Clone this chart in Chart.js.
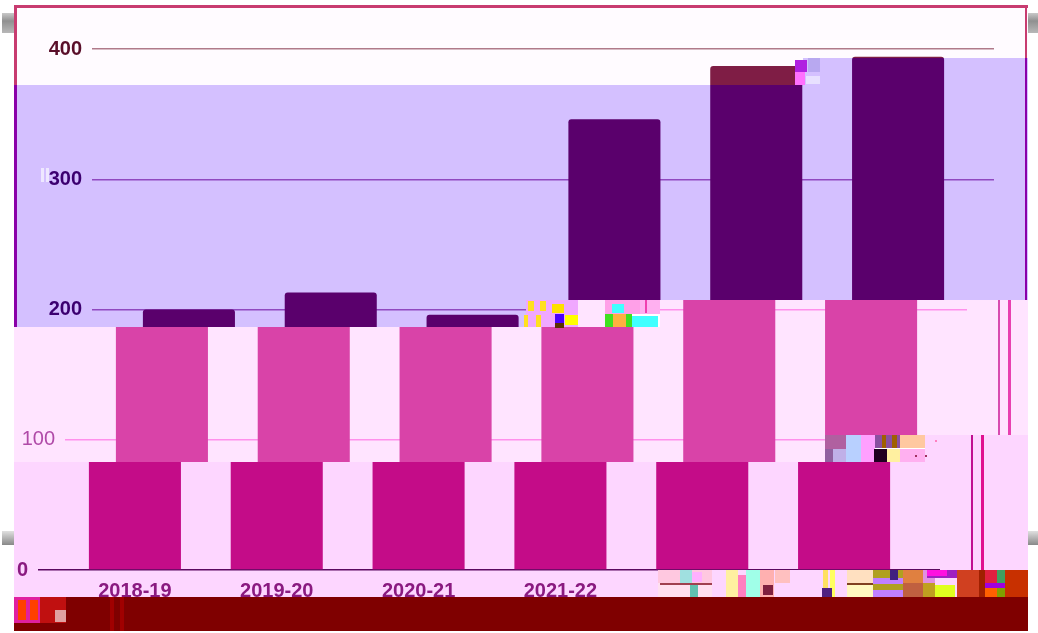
<!DOCTYPE html>
<html lang="en">

<head>
    <meta charset="UTF-8">
    <script src="https://cdn.jsdelivr.net/npm/chart.js"></script>
    <title>Bars by year</title>
    <style>
        html, body { margin: 0; padding: 0; background: #fff; overflow: hidden; }
        #stage { position: relative; width: 1038px; height: 633px; overflow: hidden; filter: blur(0.6px); }
        .layer { position: absolute; left: 0; top: 0; width: 1038px; height: 633px; }
        .shift { position: absolute; top: 0; width: 1100px; height: 640px; }
        .shift canvas { position: absolute; left: 0; top: 0; }
        .line { position: absolute; }
        .bit { position: absolute; }
    </style>
</head>

<body>
    <div id="stage"></div>
    <script>

        const categories = ['2018-19', '2019-20', '2020-21', '2021-22', '2022-23', '2023-24'];
        const barValues = [200, 213, 196, 346, 387, 394];
        const yTickStep = 100;
        const yMax = 400;

        // the picture is a damaged image: each slice is the same chart, recoloured and slid left
        const slices = [
            {
                clip: '14px 5px,1028px 5px,1028px 58px,803px 58px,803px 85px,14px 85px',
                shift: 0, bg: '#fffbff', bar: '#7f1d45', text: '#5a0f2a', grid: '#b07a8a', edge: '#c83c70', edge2: '#c83c70', weight: 'bold'
            },
            {
                clip: '14px 85px,803px 85px,803px 58px,1028px 58px,1028px 300px,526px 300px,526px 327px,14px 327px',
                shift: 0, bg: '#d4c0ff', bar: '#5a006c', text: '#3c0070', grid: '#9048c0', edge: '#8a00a8', edge2: '#f060e0', weight: 'bold'
            },
            {
                clip: '14px 327px,660px 327px,660px 300px,1028px 300px,1028px 435px,826px 435px,826px 462px,14px 462px',
                shift: 27, bg: '#ffe4ff', bar: '#d943a8', text: '#b04aa8', grid: '#ff90ec', edge: '#d84ab0', edge2: '#e840b0', weight: 'normal'
            },
            {
                clip: '14px 462px,962px 462px,962px 435px,1028px 435px,1028px 597px,14px 597px',
                shift: 54, bg: '#fdd6ff', bar: '#c40c88', text: '#8a1a80', grid: '#5a0860', edge: '#c01090', edge2: '#e0108f', weight: 'bold'
            }
        ];

        // blocks of colour noise left by the damage: x, y, w, h, colour
        const noise = [
            [2, 13, 12, 20, 'linear-gradient(#c8c8c8,#909090 40%,#b8b8b8)'], [1028, 13, 10, 20, 'linear-gradient(#c8c8c8,#909090 40%,#b8b8b8)'],
            [2, 531, 12, 14, 'linear-gradient(#e0e0e0,#888888)'], [1028, 531, 10, 14, 'linear-gradient(#e0e0e0,#888888)'],
            [14, 597, 1014, 34, '#7f0000'],
            [14, 597, 26, 26, '#e020a0'], [18, 600, 8, 20, '#ff4000'], [30, 600, 8, 20, '#ff4000'], [40, 597, 26, 26, '#c01010'], [55, 610, 11, 12, '#e0a0a0'], [110, 597, 4, 34, '#a00000'], [120, 597, 4, 34, '#a00000'],
            [795, 60, 12, 12, '#b020e0'], [795, 72, 10, 13, '#ff70ff'], [808, 58, 12, 14, '#b8a8f0'], [806, 76, 14, 8, '#e8e0ff'],
            [41, 168, 3, 14, '#eee8ff'], [46, 168, 3, 14, '#eee8ff'],
            [526, 300, 52, 27, '#f0a8ff'], [528, 301, 6, 10, '#ffe020'], [540, 301, 6, 10, '#ffe020'], [552, 304, 12, 9, '#ffe000'],
            [524, 315, 4, 12, '#ffe020'], [536, 315, 5, 12, '#ffe020'], [555, 314, 9, 9, '#4b00ff'], [555, 323, 9, 5, '#5a3000'], [565, 315, 13, 10, '#ffff00'],
            [578, 300, 27, 27, '#ffe4ff'], [605, 300, 35, 14, '#ffa0e8'], [612, 304, 12, 9, '#40ffff'], [605, 314, 8, 13, '#40e020'], [613, 314, 13, 13, '#ffb040'], [626, 314, 6, 13, '#40e020'], [632, 316, 26, 11, '#40ffff'], [640, 300, 20, 14, '#ffb0f0'], [645, 300, 2, 13, '#f040b0'],
            [825, 435, 21, 14, '#b060a0'], [825, 449, 8, 13, '#9060a0'], [833, 449, 13, 13, '#c0b0e8'], [846, 435, 15, 27, '#b8d0ff'], [861, 435, 14, 27, '#ffa0ff'], [875, 435, 25, 13, '#8a50a0'], [882, 435, 4, 13, '#a06000'], [892, 435, 5, 13, '#a06000'], [874, 449, 13, 13, '#200020'], [887, 449, 13, 13, '#fff0a0'], [900, 435, 25, 13, '#ffc8a0'], [900, 449, 25, 13, '#ffb0f0'], [925, 435, 37, 27, '#fdd6ff'], [915, 455, 2, 2, '#a03060'], [925, 455, 2, 2, '#a03060'], [935, 440, 2, 2, '#ff80c0'],
            [658, 570, 370, 27, '#fdd6ff'],
            [658, 570, 54, 13, '#ffc8e0'], [658, 583, 54, 14, '#ffe0f0'], [660, 583, 52, 2, '#a04050'], [680, 570, 12, 13, '#a0e0e0'], [692, 572, 10, 10, '#ffb0ff'], [690, 585, 8, 12, '#60c0b0'],
            [726, 570, 12, 27, '#fff0a0'], [738, 575, 8, 22, '#ff80c0'], [746, 570, 14, 27, '#a0ffe8'], [760, 570, 14, 27, '#ffb0b0'], [763, 585, 10, 10, '#802040'], [775, 570, 15, 13, '#ffc0c0'],
            [823, 570, 5, 27, '#ffe060'], [830, 570, 5, 27, '#ffff60'], [822, 588, 10, 9, '#502080'], [847, 570, 26, 13, '#ffe0c0'], [847, 583, 26, 2, '#804020'], [847, 585, 26, 12, '#fff8c0'],
            [873, 570, 30, 8, '#b0a020'], [873, 578, 30, 6, '#c080ff'], [873, 584, 30, 6, '#b0a020'], [873, 590, 30, 7, '#c080ff'],
            [890, 570, 8, 10, '#402080'], [903, 570, 20, 13, '#e08040'], [903, 583, 20, 14, '#c06040'], [923, 570, 12, 13, '#e090e0'], [923, 583, 12, 14, '#c0a020'],
            [927, 570, 30, 8, '#a020c0'], [927, 570, 20, 6, '#ff10e0'], [935, 585, 20, 12, '#e0ff20'], [957, 570, 22, 27, '#d04020'], [979, 570, 6, 27, '#a02000'],
            [985, 570, 12, 13, '#e02040'], [997, 570, 8, 13, '#40a060'], [985, 583, 20, 5, '#a000e0'], [985, 588, 12, 9, '#ff6000'], [997, 588, 8, 9, '#80a000'], [1005, 570, 23, 27, '#c83000']
        ];

        const stage = document.getElementById('stage');

        function addLine(parent, css) {
            const d = document.createElement('div');
            d.className = 'line';
            d.style.cssText = css;
            parent.appendChild(d);
        }

        slices.forEach(s => {
            const layer = document.createElement('div');
            layer.className = 'layer';
            layer.style.background = s.bg;
            layer.style.clipPath = 'polygon(' + s.clip + ')';
            const shift = document.createElement('div');
            shift.className = 'shift';
            shift.style.left = (-s.shift) + 'px';
            layer.appendChild(shift);
            stage.appendChild(layer);

            const canvas = document.createElement('canvas');
            canvas.width = 1100;
            canvas.height = 640;
            shift.appendChild(canvas);

            // frame around the chart, it slides along with the slice
            addLine(shift, 'left:14px;top:5px;width:1014px;height:3px;background:' + s.edge);
            addLine(shift, 'left:14px;top:5px;width:3px;height:620px;background:' + s.edge);
            addLine(shift, 'left:1025px;top:5px;width:2px;height:620px;background:' + s.edge);
            addLine(shift, 'left:1035px;top:5px;width:3px;height:620px;background:' + s.edge2);

            new Chart(canvas, {
                type: 'bar',
                data: {
                    labels: categories,
                    datasets: [{
                        data: barValues,
                        backgroundColor: s.bar,
                        borderRadius: { topLeft: 3, topRight: 3 },
                        borderSkipped: 'bottom',
                        barPercentage: 0.649,
                        categoryPercentage: 1
                    }]
                },
                options: {
                    responsive: false,
                    animation: false,
                    layout: { padding: { top: 49, left: 0, right: 0, bottom: 0 } },
                    plugins: { legend: { display: false }, title: { display: false }, tooltip: { enabled: false } },
                    scales: {
                        x: {
                            grid: { display: false },
                            border: { display: false },
                            ticks: { color: s.text, font: { family: 'Liberation Sans', size: 20, weight: 'bold' }, padding: 1, maxRotation: 0 },
                            afterFit: (scale) => { scale.height = 70; }
                        },
                        y: {
                            min: 0,
                            max: yMax,
                            border: { display: false },
                            grid: { color: s.grid, tickColor: s.grid, tickLength: 26, lineWidth: 1.5 },
                            ticks: { stepSize: yTickStep, color: s.text, font: { family: 'Liberation Sans', size: 20, weight: s.weight }, padding: 10 },
                            afterFit: (scale) => { scale.width = 118; }
                        },
                        y2: {
                            position: 'right',
                            min: 0,
                            max: yMax,
                            border: { display: false },
                            grid: { drawOnChartArea: false, tickColor: s.grid, tickLength: 25, lineWidth: 1.5 },
                            ticks: { stepSize: yTickStep, callback: () => '' },
                            afterFit: (scale) => { scale.width = 131; }
                        }
                    }
                }
            });
        });

        noise.forEach(n => {
            const d = document.createElement('div');
            d.className = 'bit';
            d.style.cssText = 'left:' + n[0] + 'px;top:' + n[1] + 'px;width:' + n[2] + 'px;height:' + n[3] + 'px;background:' + n[4];
            stage.appendChild(d);
        });
    </script>
</body>

</html>
